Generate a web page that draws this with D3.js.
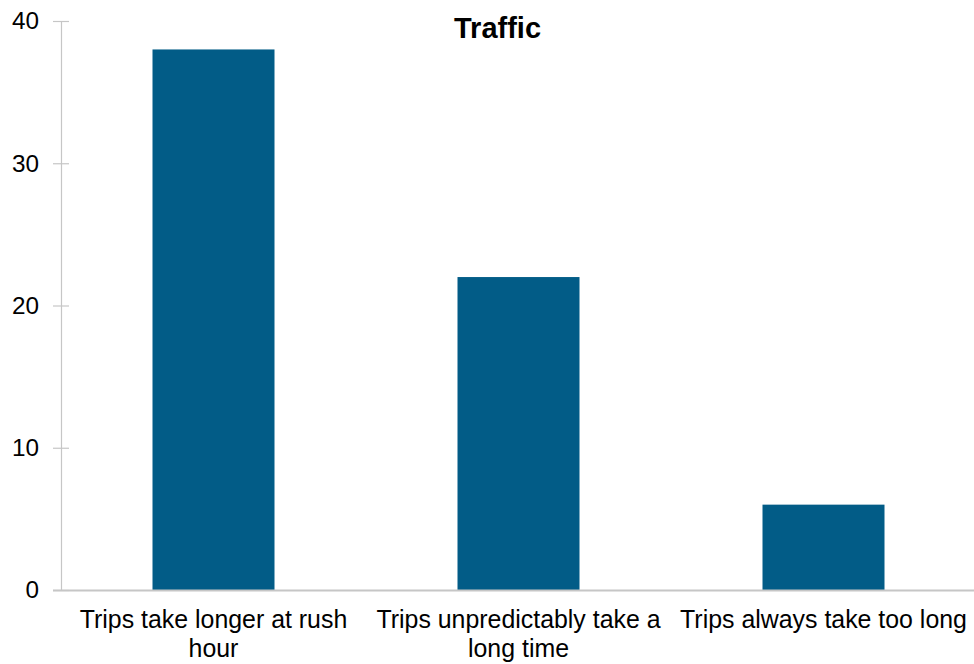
<!DOCTYPE html>
<html>
<head>
<meta charset="utf-8">
<script src="https://cdn.jsdelivr.net/npm/d3@7"></script>
<style>
  html, body { margin: 0; padding: 0; background: #fff; }
  svg { display: block; font-family: "Liberation Sans", Arial, sans-serif; }
</style>
</head>
<body>
<svg id="chart" width="974" height="664"></svg>
<script>
const title = "Traffic";
const categories = [
  ["Trips take longer at rush", "hour"],
  ["Trips unpredictably take a", "long time"],
  ["Trips always take too long"]
];
const values = [38, 22, 6];
const yTicks = [0, 10, 20, 30, 40];

const svg = d3.select("#chart");
const margin = { left: 61, right: 0, top: 21, bottom: 74 };
const width = 974, height = 664;

const keys = categories.map(c => c.join(" "));
const x = d3.scaleBand()
  .domain(keys)
  .range([margin.left, 976])
  .paddingInner(0.6)
  .paddingOuter(0.3);

const y = d3.scaleLinear()
  .domain([0, 40])
  .range([height - margin.bottom, margin.top]);

const axisColor = "#c6c6c6";

// bars
svg.append("g")
  .selectAll("rect")
  .data(values)
  .join("rect")
  .attr("x", (d, i) => x(keys[i]))
  .attr("y", d => y(d))
  .attr("width", x.bandwidth())
  .attr("height", d => y(0) - y(d))
  .attr("fill", "#025c87");

// y axis with crossing tick marks
const yAxis = svg.append("g")
  .attr("transform", `translate(${margin.left},0)`)
  .call(d3.axisLeft(y).tickValues(yTicks).tickSize(8).tickPadding(14).tickFormat(d3.format("d")));
yAxis.select(".domain").attr("stroke", axisColor).attr("stroke-width", 1.2)
  .attr("d", `M0.5,${y(40)}V${y(0)}`);
yAxis.selectAll(".tick line").attr("stroke", axisColor).attr("stroke-width", 1.2)
  .attr("x1", 8).attr("x2", -8);
yAxis.selectAll(".tick text")
  .attr("fill", "#000")
  .style("font-size", "24.3px")
  .attr("x", -22);

// x axis baseline
svg.append("line")
  .attr("x1", margin.left - 8).attr("x2", 975)
  .attr("y1", y(0) + 0.5).attr("y2", y(0) + 0.5)
  .attr("stroke", axisColor).attr("stroke-width", 2);

// category labels
const labels = svg.append("g")
  .selectAll("text")
  .data(categories)
  .join("text")
  .attr("x", (d, i) => x(keys[i]) + x.bandwidth() / 2)
  .attr("y", 628)
  .attr("text-anchor", "middle")
  .style("font-size", "24.9px")
  .attr("fill", "#000");
labels.selectAll("tspan")
  .data(d => d)
  .join("tspan")
  .attr("x", function () { return this.parentNode.getAttribute("x"); })
  .attr("dy", (d, i) => i === 0 ? 0 : 29)
  .text(d => d);

// title
svg.append("text")
  .attr("x", 497.5)
  .attr("y", 38)
  .attr("text-anchor", "middle")
  .style("font-size", "29px")
  .style("font-weight", "bold")
  .text(title);
</script>
</body>
</html>
